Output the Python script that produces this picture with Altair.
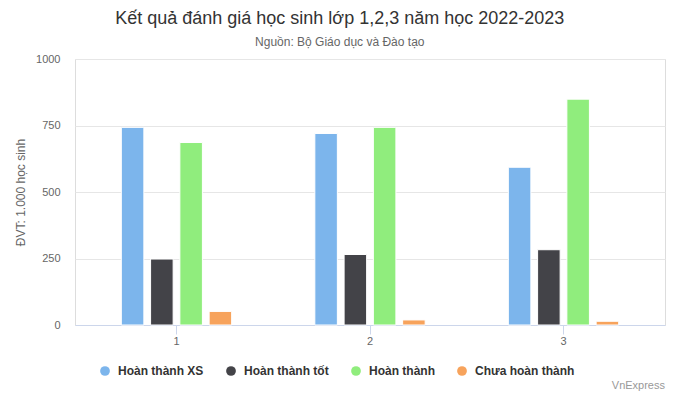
import altair as alt
import pandas as pd

grades = ["1", "2", "3"]
series = ["Hoàn thành XS", "Hoàn thành tốt", "Hoàn thành", "Chưa hoàn thành"]
colors = ["#7cb5ec", "#434348", "#90ed7d", "#f7a35c"]
xs = [743, 720, 593]
tot = [248, 265, 283]
ht = [686, 743, 849]
chua = [51, 19, 14]
y_ticks = [0, 250, 500, 750, 1000]

rows = []
for name, vals in zip(series, [xs, tot, ht, chua]):
    for g, v in zip(grades, vals):
        rows.append({"Lớp": g, "Loại": name, "Giá trị": v})
df = pd.DataFrame(rows)

FONT = "Liberation Sans"

bars = alt.Chart(df).mark_bar(stroke="white", strokeWidth=1).encode(
    x=alt.X("Lớp:N", sort=grades,
            scale=alt.Scale(paddingInner=0.395, paddingOuter=0.222),
            axis=alt.Axis(title=None, labelAngle=0, labelColor="#666666", labelFontSize=11,
                          labelFont=FONT, tickColor="#ccd6eb", tickSize=9, labelPadding=1,
                          domainColor="#ccd6eb", domainWidth=1, grid=False)),
    xOffset=alt.XOffset("Loại:N", sort=series,
                        scale=alt.Scale(paddingInner=0.23, paddingOuter=0.115)),
    y=alt.Y("Giá trị:Q", scale=alt.Scale(domain=[0, 1000], nice=False),
            axis=alt.Axis(title="ĐVT: 1.000 học sinh", values=y_ticks, format="d",
                          titleColor="#666666",
                          titleFontSize=12, titleFontWeight="normal", titleFont=FONT,
                          titlePadding=8,
                          labelColor="#666666", labelFontSize=11, labelFont=FONT,
                          domain=False, ticks=False, labelPadding=15,
                          gridColor="#e6e6e6", gridWidth=1)),
    color=alt.Color("Loại:N", sort=series,
                    scale=alt.Scale(domain=series, range=colors),
                    legend=alt.Legend(title=None, orient="none", direction="horizontal",
                                      legendX=24, legendY=306, symbolType="circle",
                                      symbolSize=95, symbolStrokeWidth=0,
                                      labelFont=FONT, labelFontSize=12, labelFontWeight="bold",
                                      labelColor="#333333", labelOffset=7, columnPadding=21)),
)

credit = alt.Chart(pd.DataFrame({"t": ["VnExpress"]})).mark_text(
    align="right", baseline="middle", font=FONT, fontSize=11, color="#999999"
).encode(x=alt.value(590), y=alt.value(327), text="t:N")

chart = alt.layer(bars, credit).properties(
    width=590, height=266,
    autosize=alt.AutoSizeParams(type="none"),
    padding={"left": 67, "top": 51, "right": 7, "bottom": 70},
    title=alt.TitleParams(
        text="Kết quả đánh giá học sinh lớp 1,2,3 năm học 2022-2023",
        subtitle="Nguồn: Bộ Giáo dục và Đào tạo",
        anchor="middle", frame="bounds", font=FONT, fontSize=18, fontWeight="normal",
        color="#333333", subtitleFont=FONT, subtitleFontSize=12, subtitleColor="#666666",
        subtitlePadding=9, offset=5,
    ),
).configure_view(stroke=None).configure(background="white")

chart.save("out.html", embed_options={"renderer": "svg", "actions": False})
